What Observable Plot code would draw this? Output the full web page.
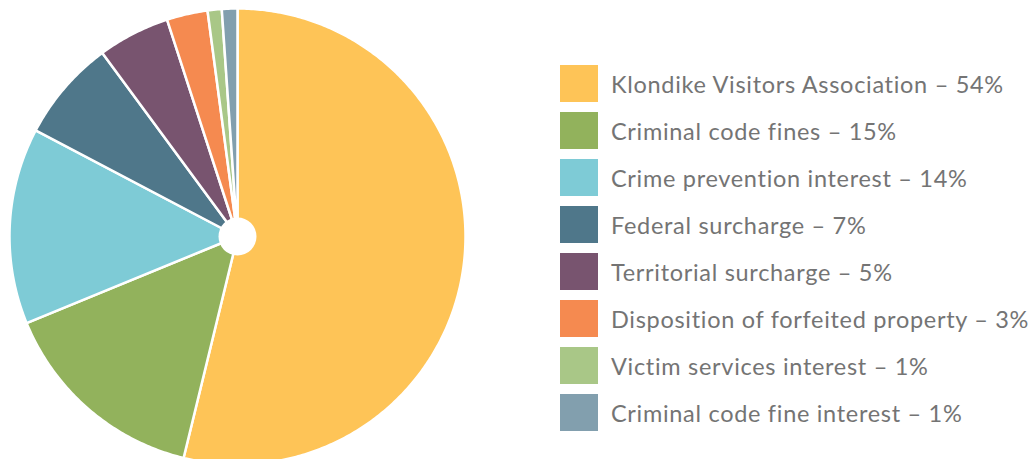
<!DOCTYPE html>
<html>
<head>
<meta charset="utf-8">
<script src="https://cdn.jsdelivr.net/npm/d3@7"></script>
<script src="https://cdn.jsdelivr.net/npm/@observablehq/plot@0.6"></script>
<style>
  html, body { margin: 0; padding: 0; background: #fff; overflow: hidden; }
  #wrap { position: relative; width: 1034px; height: 459px; }
  #chart { position: absolute; left: 0; top: 0; }
  #legend { position: absolute; left: 560px; top: 65px; font-family: Lato, sans-serif; font-size: 23.5px; letter-spacing: 0.7px; color: #747474; white-space: nowrap; }
  .row { display: flex; align-items: center; height: 37px; margin-bottom: 10px; }
  .sw { width: 38px; height: 37px; margin-right: 13px; flex: none; }
</style>
</head>
<body>
<div id="wrap"><div id="chart"></div><div id="legend"></div></div>
<script>
const categories = [
  "Klondike Visitors Association",
  "Criminal code fines",
  "Crime prevention interest",
  "Federal surcharge",
  "Territorial surcharge",
  "Disposition of forfeited property",
  "Victim services interest",
  "Criminal code fine interest"
];
const values = [53.8, 15.0, 13.9, 7.2, 5.1, 2.9, 1.0, 1.1];
const labels = ["54%", "15%", "14%", "7%", "5%", "3%", "1%", "1%"];
const colors = ["#FEC457", "#92B25C", "#7ECBD6", "#4F778A", "#78546F", "#F58A50", "#A9C787", "#829FAE"];

// Build slice polygons in unit coordinates (clockwise from 12 o'clock)
const total = d3.sum(values);
const pts = [];
let cum = 0;
categories.forEach((c, i) => {
  const a0 = cum / total * 2 * Math.PI;
  cum += values[i];
  const a1 = cum / total * 2 * Math.PI;
  const n = Math.max(2, Math.ceil((a1 - a0) / 0.01));
  pts.push({cat: c, x: 0, y: 0});
  for (let k = 0; k <= n; k++) {
    const a = a0 + (a1 - a0) * k / n;
    pts.push({cat: c, x: Math.sin(a), y: Math.cos(a)});
  }
});

const W = 480, H = 459, R = 228, cx = 237, cy = 236;
const chart = Plot.plot({
  width: W, height: H,
  margin: 0,
  x: {domain: [-cx / R, (W - cx) / R], axis: null},
  y: {domain: [-(H - cy) / R, cy / R], axis: null},
  color: {domain: categories, range: colors},
  marks: [
    Plot.line(pts, {x: "x", y: "y", z: "cat", fill: "cat", stroke: "white", strokeWidth: 2.5, curve: "linear-closed", strokeLinejoin: "round"}),
    Plot.dot([{x: 0, y: 0}], {x: "x", y: "y", r: 19, fill: "white", stroke: "none"})
  ]
});
document.getElementById("chart").appendChild(chart);

const legend = document.getElementById("legend");
categories.forEach((c, i) => {
  const row = document.createElement("div");
  row.className = "row";
  const sw = document.createElement("div");
  sw.className = "sw";
  sw.style.background = colors[i];
  const t = document.createElement("span");
  t.textContent = c + " – " + labels[i];
  row.appendChild(sw);
  row.appendChild(t);
  legend.appendChild(row);
});
</script>
</body>
</html>
